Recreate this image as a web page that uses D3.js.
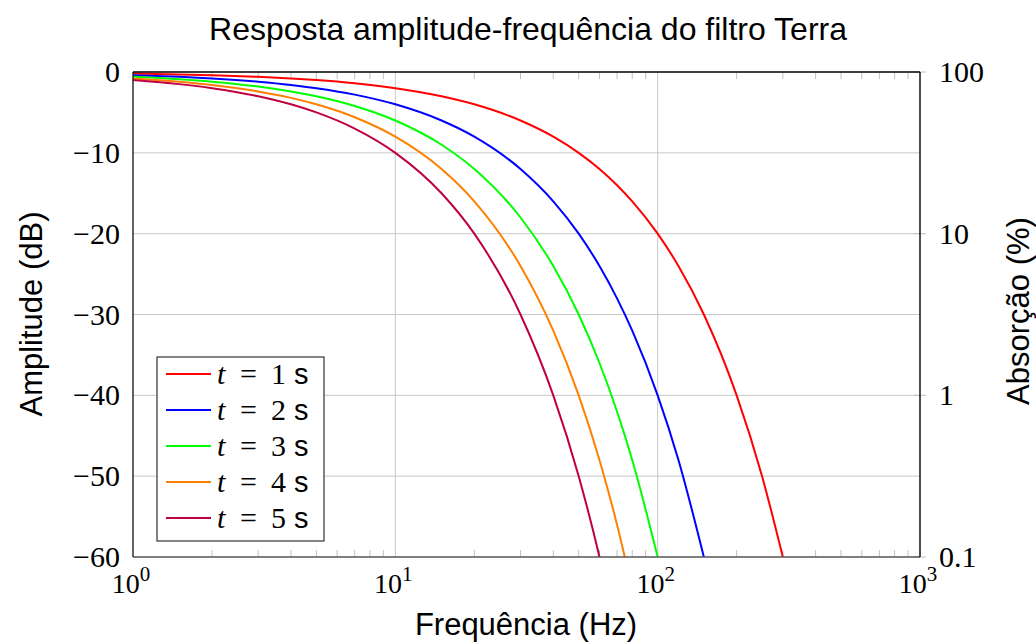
<!DOCTYPE html>
<html>
<head>
<meta charset="utf-8">
<script src="https://cdn.jsdelivr.net/npm/d3@7"></script>
<style>
  body { margin: 0; background: #fff; }
  svg { display: block; }
</style>
</head>
<body>
<svg id="chart" width="1036" height="644"></svg>
<script>
// ---- Data ----
const frequencies = [1, 1.5, 2, 3, 4, 5, 7, 10, 15, 20, 30, 40, 50, 60, 70, 80, 100, 120, 150, 200, 250, 300];
const seriesT1 = [-0.2, -0.3, -0.4, -0.6, -0.8, -1, -1.4, -2, -3, -4, -6, -8, -10, -12, -14, -16, -20, -24, -30, -40, -50, -60];
const seriesT2 = [-0.4, -0.6, -0.8, -1.2, -1.6, -2, -2.8, -4, -6, -8, -12, -16, -20, -24, -28, -32, -40, -48, -60];
const seriesT3 = [-0.6, -0.9, -1.2, -1.8, -2.4, -3, -4.2, -6, -9, -12, -18, -24, -30, -36, -42, -48, -60];
const seriesT4 = [-0.8, -1.2, -1.6, -2.4, -3.2, -4, -5.6, -8, -12, -16, -24, -32, -40, -48, -56, -64];
const seriesT5 = [-1, -1.5, -2, -3, -4, -5, -7, -10, -15, -20, -30, -40, -50, -60, -70];
const seriesNames = ["1", "2", "3", "4", "5"];
const seriesColors = ["#ff0000", "#0000ff", "#00ff00", "#ff8000", "#bf0040"];
const xTickValues = [1, 10, 100, 1000];
const xTickExponents = ["0", "1", "2", "3"];
const yTickValues = [0, -10, -20, -30, -40, -50, -60];
const rightTickValues = [100, 10, 1, 0.1];
const rightTickLabels = ["100", "10", "1", "0.1"];
const titleText = "Resposta amplitude-frequência do filtro Terra";
const xLabelText = "Frequência (Hz)";
const yLabelText = "Amplitude (dB)";
const rightLabelText = "Absorção (%)";

const allSeries = [seriesT1, seriesT2, seriesT3, seriesT4, seriesT5];

// ---- Layout ----
const svg = d3.select("#chart");
const pL = 133, pR = 920, pT = 72, pB = 557;
const serif = "'Liberation Serif', 'DejaVu Serif', serif";
const sans = "'Liberation Sans', Arial, sans-serif";

const x = d3.scaleLog().domain([1, 1000]).range([pL, pR]);
const y = d3.scaleLinear().domain([-60, 0]).range([pB, pT]);
const yR = d3.scaleLog().domain([0.1, 100]).range([pB, pT]);

const gridColor = "#c8c8c8";

// grid
const g = svg.append("g");
g.append("g").selectAll("line").data(xTickValues.slice(1, -1)).join("line")
  .attr("x1", d => x(d)).attr("x2", d => x(d))
  .attr("y1", pT).attr("y2", pB)
  .attr("stroke", gridColor).attr("stroke-width", 1);
g.append("g").selectAll("line").data(yTickValues.slice(1, -1)).join("line")
  .attr("x1", pL).attr("x2", pR)
  .attr("y1", d => y(d)).attr("y2", d => y(d))
  .attr("stroke", gridColor).attr("stroke-width", 1);

// minor ticks on top and bottom
const minor = [];
for (let dec = 1; dec < 1000; dec *= 10) for (let k = 2; k <= 9; k++) minor.push(dec * k);
g.append("g").selectAll("line").data(minor).join("line")
  .attr("x1", d => x(d)).attr("x2", d => x(d))
  .attr("y1", pB).attr("y2", pB - 7)
  .attr("stroke", "#c0c0c0").attr("stroke-width", 1);
g.append("g").selectAll("line").data(minor).join("line")
  .attr("x1", d => x(d)).attr("x2", d => x(d))
  .attr("y1", pT).attr("y2", pT + 7)
  .attr("stroke", "#c0c0c0").attr("stroke-width", 1);
// right axis outward ticks (gray)
g.append("g").selectAll("line").data(rightTickValues).join("line")
  .attr("x1", pR - 6).attr("x2", pR + 6)
  .attr("y1", d => yR(d)).attr("y2", d => yR(d))
  .attr("stroke", "#c0c0c0").attr("stroke-width", 1);

// curves
svg.append("clipPath").attr("id", "clip").append("rect")
  .attr("x", pL).attr("y", pT).attr("width", pR - pL).attr("height", pB - pT);
const line = d3.line()
  .x((d, i) => x(frequencies[i]))
  .y(d => y(d))
  .curve(d3.curveMonotoneX);
svg.append("g").attr("clip-path", "url(#clip)")
  .selectAll("path").data(allSeries).join("path")
  .attr("d", d => line(d))
  .attr("fill", "none")
  .attr("stroke", (d, i) => seriesColors[i])
  .attr("stroke-width", 2);

// frame
svg.append("line").attr("x1", pL).attr("x2", pR).attr("y1", pB).attr("y2", pB)
  .attr("stroke", "#555").attr("stroke-width", 1.6);
svg.append("line").attr("x1", pL).attr("x2", pL).attr("y1", pT).attr("y2", pB)
  .attr("stroke", "#222").attr("stroke-width", 1.4);
svg.append("line").attr("x1", pL).attr("x2", pR).attr("y1", pT).attr("y2", pT)
  .attr("stroke", "#000").attr("stroke-width", 1.4);
svg.append("line").attr("x1", pR).attr("x2", pR).attr("y1", pT).attr("y2", pB)
  .attr("stroke", "#000").attr("stroke-width", 1.4);

// left tick labels
svg.append("g").selectAll("text").data(yTickValues).join("text")
  .attr("x", 120).attr("y", d => y(d) + 10)
  .attr("text-anchor", "end")
  .attr("font-family", serif).attr("font-size", 30)
  .text(d => d === 0 ? "0" : "\u2212" + Math.abs(d));

// right tick labels
svg.append("g").selectAll("text").data(rightTickValues).join("text")
  .attr("x", 939).attr("y", (d) => yR(d) + 10)
  .attr("text-anchor", "start")
  .attr("font-family", serif).attr("font-size", 30)
  .text((d, i) => rightTickLabels[i]);

// bottom tick labels 10^n
const xl = svg.append("g").selectAll("text").data(xTickValues).join("text")
  .attr("x", d => x(d) - 2).attr("y", 593)
  .attr("text-anchor", "middle")
  .attr("font-family", serif).attr("font-size", 28);
xl.append("tspan").text("10");
xl.append("tspan").attr("dy", -12).attr("font-size", 21).text((d, i) => xTickExponents[i]);

// title and axis labels
svg.append("text").attr("x", 528).attr("y", 40).attr("text-anchor", "middle")
  .attr("font-family", sans).attr("font-size", 32).text(titleText);
svg.append("text").attr("x", 526).attr("y", 635).attr("text-anchor", "middle")
  .attr("font-family", sans).attr("font-size", 31).text(xLabelText);
svg.append("text").attr("transform", "translate(42,314) rotate(-90)").attr("text-anchor", "middle")
  .attr("font-family", sans).attr("font-size", 31).text(yLabelText);
svg.append("text").attr("transform", "translate(1029,311) rotate(-90)").attr("text-anchor", "middle")
  .attr("font-family", sans).attr("font-size", 31).text(rightLabelText);

// legend
const lg = svg.append("g");
lg.append("rect").attr("x", 157).attr("y", 357).attr("width", 167).attr("height", 184)
  .attr("fill", "#fff").attr("stroke", "#333").attr("stroke-width", 1.2);
const entries = lg.selectAll("g").data(seriesNames).join("g")
  .attr("transform", (d, i) => `translate(0, ${374 + i * 36})`);
entries.append("line").attr("x1", 166).attr("x2", 211).attr("y1", 0).attr("y2", 0)
  .attr("stroke", (d, i) => seriesColors[i]).attr("stroke-width", 2);
entries.append("text").attr("x", 217).attr("y", 10)
  .attr("font-family", serif).attr("font-size", 30).attr("font-style", "italic").text("t");
entries.append("text").attr("x", 240).attr("y", 10)
  .attr("font-family", serif).attr("font-size", 30).text("=");
entries.append("text").attr("x", 271).attr("y", 10)
  .attr("font-family", serif).attr("font-size", 30).text(d => d);
entries.append("text").attr("x", 294).attr("y", 10)
  .attr("font-family", sans).attr("font-size", 29).text("s");
</script>
</body>
</html>
